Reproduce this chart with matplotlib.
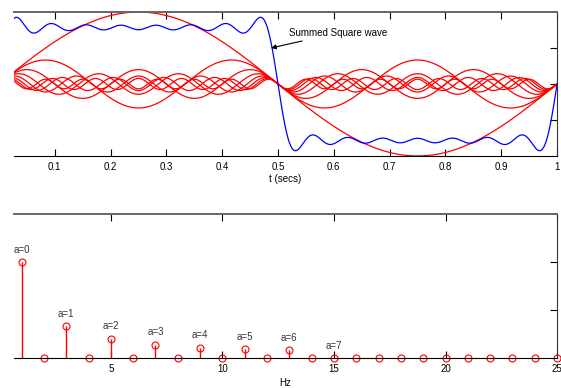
import numpy as np
import matplotlib
matplotlib.use("Agg")
import matplotlib.pyplot as plt

plt.rcParams['font.family'] = ['Liberation Sans', 'DejaVu Sans']

# harmonics of the square wave (odd multiples of 1 Hz), amplitude 1/n
harm_n = [1, 3, 5, 7, 9, 11, 13, 15]
harm_amp = [1.0, 1/3, 1/5, 1/7, 1/9, 1/11, 1/13, 1/15]

# spectrum, 1..25 Hz
freq_hz = list(range(1, 26))
spec_amp = [1.0, 0, 0.33, 0, 0.2, 0, 0.14, 0, 0.11, 0, 0.09, 0, 0.08, 0,
            0, 0, 0, 0, 0, 0, 0, 0, 0, 0, 0]
label_hz = [1, 3, 5, 7, 9, 11, 13, 15]
label_txt = ["a=0", "a=1", "a=2", "a=3", "a=4", "a=5", "a=6", "a=7"]

t = np.linspace(0, 1, 1000)

fig = plt.figure(figsize=(5.61, 3.88), dpi=100)
ax1 = fig.add_axes([0.025, 0.598, 0.968, 0.371])
ax2 = fig.add_axes([0.025, 0.077, 0.968, 0.371])

total = np.zeros_like(t)
for n, a in zip(harm_n, harm_amp):
    y = a * np.sin(2 * np.pi * n * t)
    total += y
    ax1.plot(t, y, color='red', lw=0.9)
ax1.plot(t, total, color='blue', lw=0.9)

ax1.annotate("Summed Square wave", xy=(0.4876, 0.5), xytext=(0.519, 0.71),
             fontsize=7, va='center', ha='left',
             arrowprops=dict(arrowstyle='-|>', color='black', lw=0.8,
                             mutation_scale=7, shrinkA=1, shrinkB=0))

ax1.set_xlim(0.027, 1)
ax1.set_ylim(-1, 1)
ax1.set_xticks(np.arange(0.1, 1.01, 0.1))
ax1.set_xticklabels(["0.1", "0.2", "0.3", "0.4", "0.5", "0.6", "0.7", "0.8", "0.9", "1"])
ax1.set_yticks([-0.5, 0, 0.5])
ax1.set_xlabel("t (secs)", fontsize=7, labelpad=2)

# stem plot
ml, sl, bl = ax2.stem(freq_hz, spec_amp, basefmt=' ')
plt.setp(ml, color='red', marker='o', markersize=5, markerfacecolor='none',
         markeredgewidth=0.8, clip_on=False)
plt.setp(sl, color='red', lw=1)
for f, txt in zip(label_hz, label_txt):
    ax2.text(f, spec_amp[f - 1] + 0.13, txt, fontsize=7, ha='center', va='center',
             color='#333333')
ax2.set_xlim(0.66, 25)
ax2.set_ylim(0, 1.5)
ax2.set_xticks([5, 10, 15, 20, 25])
ax2.set_yticks([0.5, 1.0])
ax2.set_xlabel("Hz", fontsize=7, labelpad=3)

for ax in (ax1, ax2):
    ax.spines['left'].set_visible(False)
    ax.spines['top'].set_color('#666666')
    ax.spines['top'].set_linewidth(1.4)
    ax.spines['right'].set_color('#333333')
    ax.spines['bottom'].set_color('black')
    ax.tick_params(direction='in', length=5, width=0.8, top=True, right=True,
                   left=False, labelleft=False, labelright=False,
                   labelsize=7, pad=4)

fig.savefig("out.png", dpi=100)
